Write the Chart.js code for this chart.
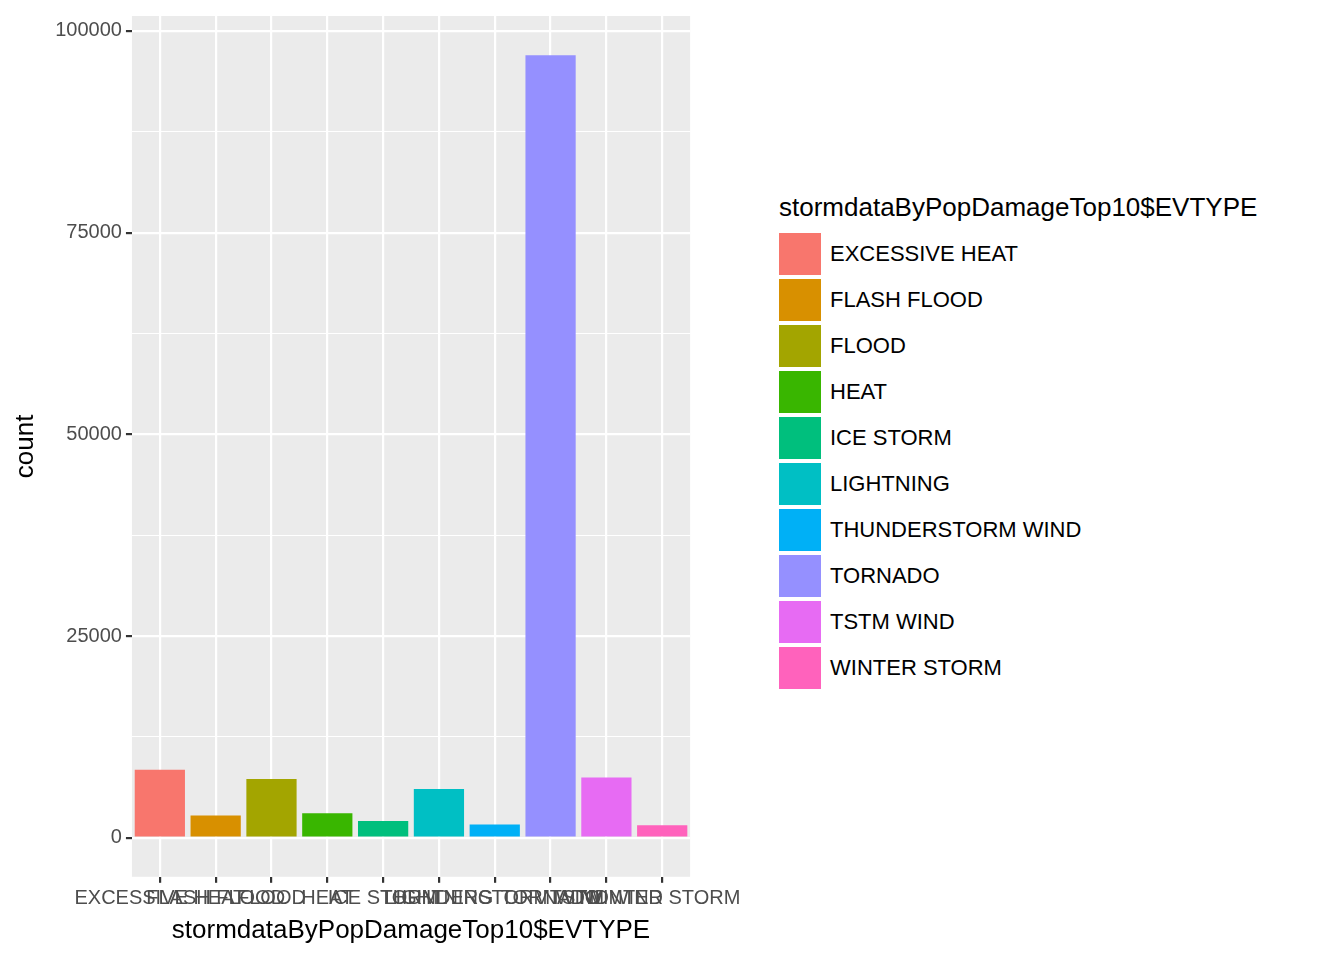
<!DOCTYPE html>
<html><head><meta charset="utf-8">
<script src="https://cdn.jsdelivr.net/npm/chart.js@4/dist/chart.umd.min.js"></script>
<style>
body{margin:0;background:#fff;font-family:Arial,"Liberation Sans",sans-serif;}
#wrap{position:absolute;left:0;top:0;width:745px;height:960px;}
#legend{position:absolute;left:779px;top:192px;color:#000;}
#legend .t{font-size:26px;margin-bottom:8px;}
#legend .row{display:flex;align-items:center;height:46px;}
#legend .sw{width:42px;height:42px;margin-right:9px;}
#legend .lb{font-size:22px;}
</style></head><body>
<div id="wrap"><canvas id="c"></canvas></div>
<div id="legend"><div class="t">stormdataByPopDamageTop10$EVTYPE</div></div>
<script>
const categories = ['EXCESSIVE HEAT','FLASH FLOOD','FLOOD','HEAT','ICE STORM','LIGHTNING','THUNDERSTORM WIND','TORNADO','TSTM WIND','WINTER STORM'];
const counts = [8428, 2755, 7259, 3037, 2064, 6046, 1621, 96979, 7461, 1527];
const colors = ['#F8766D','#D89000','#A3A500','#39B600','#00BF7D','#00BFC4','#00B0F6','#9590FF','#E76BF3','#FF62BC'];
const yTicks = [0, 12500, 25000, 37500, 50000, 62500, 75000, 87500, 100000];

const leg = document.getElementById('legend');
categories.forEach((c, i) => {
  const r = document.createElement('div'); r.className = 'row';
  r.innerHTML = '<div class="sw" style="background:' + colors[i] + '"></div><div class="lb">' + c + '</div>';
  leg.appendChild(r);
});

const panel = {
  id: 'panel',
  beforeDraw(chart) {
    const a = chart.chartArea, g = chart.ctx;
    g.save(); g.fillStyle = '#EBEBEB';
    g.fillRect(a.left, a.top, a.right - a.left, a.bottom - a.top);
    g.restore();
  }
};

new Chart(document.getElementById('c'), {
  type: 'bar',
  data: { labels: categories, datasets: [{ data: counts, backgroundColor: colors, categoryPercentage: 1, barPercentage: 0.9 }] },
  plugins: [panel],
  options: {
    responsive: true, maintainAspectRatio: false, animation: false,
    layout: { padding: { top: 14, right: 13, bottom: 14 } },
    plugins: { legend: { display: false }, tooltip: { enabled: false } },
    scales: {
      x: {
        grid: { color: '#fff', lineWidth: 2.2, offset: false, tickColor: '#333', tickLength: 6, drawTicks: true },
        border: { display: false },
        ticks: { autoSkip: false, maxRotation: 0, minRotation: 0, color: '#4D4D4D', font: { size: 20 }, padding: 4 },
        title: { display: true, text: 'stormdataByPopDamageTop10$EVTYPE', color: '#000', font: { size: 26 }, padding: 0 }
      },
      y: {
        min: -4850, max: 101850,
        afterBuildTicks: s => { s.ticks = yTicks.map(v => ({ value: v })); },
        grid: { color: '#fff', lineWidth: c => (c.tick && c.tick.value % 25000 === 0) ? 2.2 : 1, tickColor: c => (c.tick && c.tick.value % 25000 === 0) ? '#333' : 'rgba(0,0,0,0)', tickLength: 6 },
        border: { display: false },
        ticks: { color: '#4D4D4D', font: { size: 20 }, padding: 4, callback: v => v % 25000 === 0 ? String(v) : '' },
        title: { display: true, text: 'count', color: '#000', font: { size: 26 }, padding: 10 }
      }
    }
  }
});
</script>
</body></html>
